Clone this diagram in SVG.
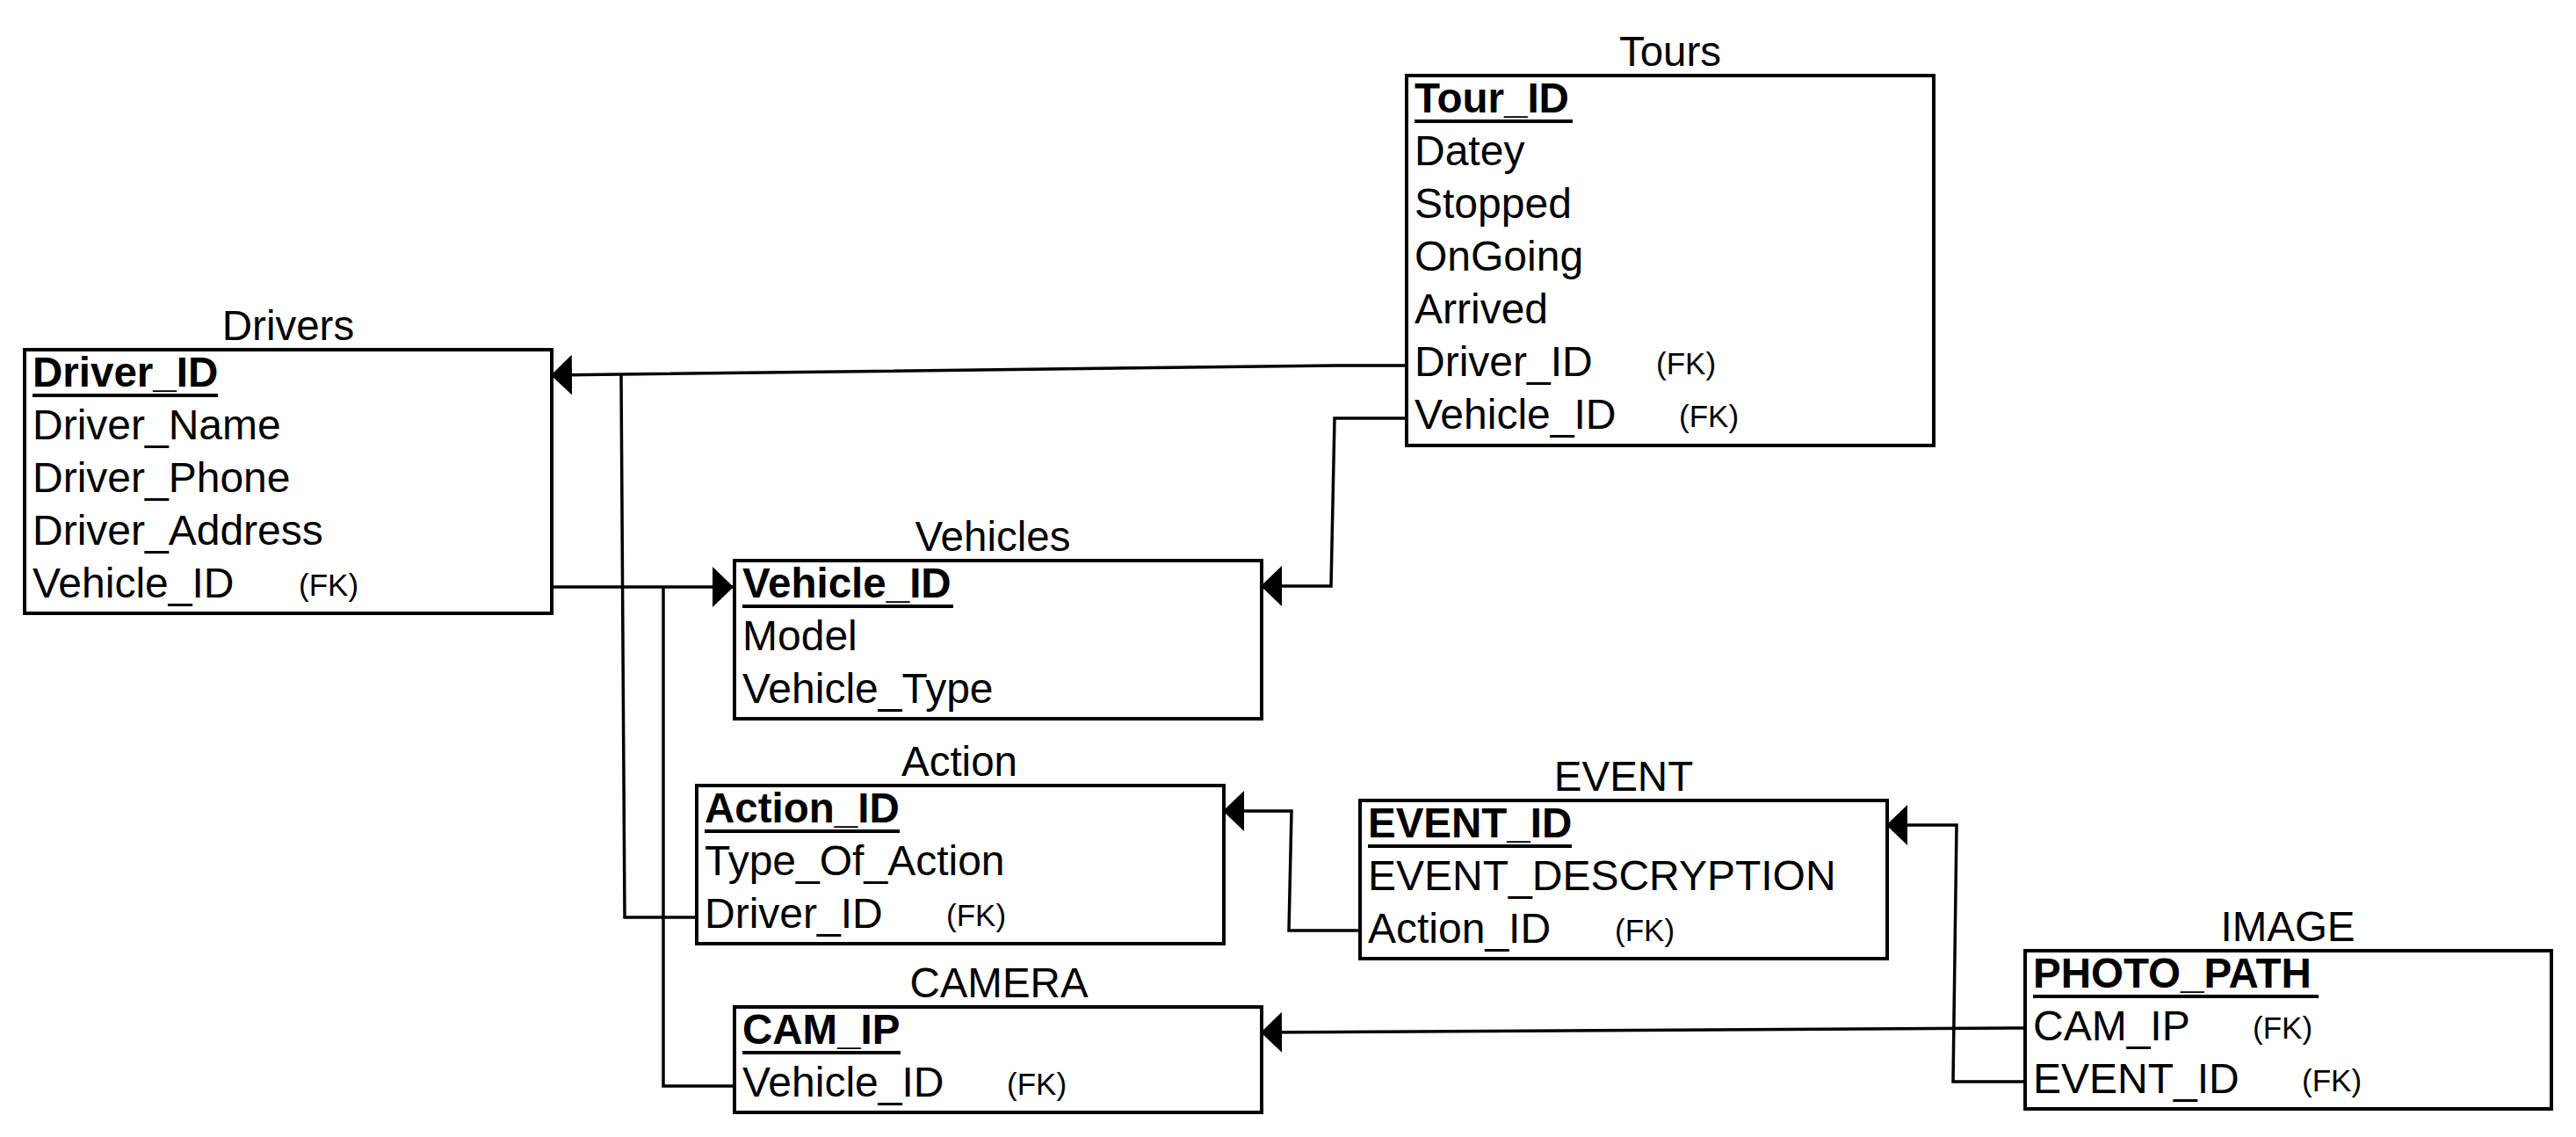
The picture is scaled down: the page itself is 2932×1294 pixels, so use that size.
<svg xmlns="http://www.w3.org/2000/svg" width="2932" height="1294" viewBox="0 0 2932 1294">
<style>
text{font-family:"Liberation Sans",Arial,sans-serif;fill:#000}
.t{font-size:47.5px;text-anchor:middle}
.r{font-size:48px}
.pk{font-size:47.5px;font-weight:bold}
.fk{font-size:35px}
.box{fill:#fff;stroke:#000;stroke-width:4}
.ul{stroke:#000;stroke-width:4}
.c{fill:none;stroke:#000;stroke-width:3.5}
.a{marker-end:url(#arr)}
</style>
<defs>
<marker id="arr" viewBox="0 -24 24 48" refX="24" refY="0" markerWidth="24" markerHeight="48" markerUnits="userSpaceOnUse" orient="auto">
<path d="M0,-23 L24,0 L0,23 Z" fill="#000"/>
</marker>
</defs>
<rect width="2932" height="1294" fill="#fff"/>
<g id="connectors">
<path class="c a" d="M1600,416 L1520,416 L627,427"/>
<path class="c" d="M792,1044 L711,1044 L707,427"/>
<path class="c a" d="M628,668 L835,668"/>
<path class="c" d="M836,1236 L755,1236 L755,668"/>
<path class="c a" d="M1600,476 L1519,476 L1515,667 L1435,667"/>
<path class="c a" d="M1548,1059 L1467,1059 L1470,923 L1392,923"/>
<path class="c a" d="M2305,1231 L2223,1231 L2227,939 L2147,939"/>
<path class="c a" d="M2305,1170 L1435,1175"/>
</g>
<g id="tours">
<text class="t" x="1901" y="75">Tours</text>
<rect class="box" x="1601" y="86" width="600" height="421"/>
<text class="pk" x="1610" y="128">Tour_ID</text>
<line class="ul" x1="1610" y1="138" x2="1790" y2="138"/>
<text class="r" x="1610" y="188">Datey</text>
<text class="r" x="1610" y="248">Stopped</text>
<text class="r" x="1610" y="308">OnGoing</text>
<text class="r" x="1610" y="368">Arrived</text>
<text class="r" x="1610" y="428">Driver_ID</text>
<text class="fk" x="1885" y="426">(FK)</text>
<text class="r" x="1610" y="488">Vehicle_ID</text>
<text class="fk" x="1911" y="486">(FK)</text>
</g>
<g id="drivers">
<text class="t" x="328" y="387">Drivers</text>
<rect class="box" x="28" y="398" width="600" height="300"/>
<text class="pk" x="37" y="440">Driver_ID</text>
<line class="ul" x1="37" y1="450" x2="248" y2="450"/>
<text class="r" x="37" y="500">Driver_Name</text>
<text class="r" x="37" y="560">Driver_Phone</text>
<text class="r" x="37" y="620">Driver_Address</text>
<text class="r" x="37" y="680">Vehicle_ID</text>
<text class="fk" x="340" y="678">(FK)</text>
</g>
<g id="vehicles">
<text class="t" x="1130" y="627">Vehicles</text>
<rect class="box" x="836" y="638" width="600" height="180"/>
<text class="pk" x="845" y="680">Vehicle_ID</text>
<line class="ul" x1="845" y1="690" x2="1085" y2="690"/>
<text class="r" x="845" y="740">Model</text>
<text class="r" x="845" y="800">Vehicle_Type</text>
</g>
<g id="action">
<text class="t" x="1092" y="883">Action</text>
<rect class="box" x="793" y="894" width="600" height="180"/>
<text class="pk" x="802" y="936">Action_ID</text>
<line class="ul" x1="802" y1="946" x2="1024" y2="946"/>
<text class="r" x="802" y="996">Type_Of_Action</text>
<text class="r" x="802" y="1056">Driver_ID</text>
<text class="fk" x="1077" y="1054">(FK)</text>
</g>
<g id="event">
<text class="t" x="1848" y="900">EVENT</text>
<rect class="box" x="1548" y="911" width="600" height="180"/>
<text class="pk" x="1557" y="953">EVENT_ID</text>
<line class="ul" x1="1557" y1="963" x2="1789" y2="963"/>
<text class="r" x="1557" y="1013">EVENT_DESCRYPTION</text>
<text class="r" x="1557" y="1073">Action_ID</text>
<text class="fk" x="1838" y="1071">(FK)</text>
</g>
<g id="camera">
<text class="t" x="1137" y="1135">CAMERA</text>
<rect class="box" x="836" y="1146" width="600" height="120"/>
<text class="pk" x="845" y="1188">CAM_IP</text>
<line class="ul" x1="845" y1="1198" x2="1025" y2="1198"/>
<text class="r" x="845" y="1248">Vehicle_ID</text>
<text class="fk" x="1146" y="1246">(FK)</text>
</g>
<g id="image">
<text class="t" x="2604" y="1071">IMAGE</text>
<rect class="box" x="2305" y="1082" width="599" height="180"/>
<text class="pk" x="2314" y="1124">PHOTO_PATH</text>
<line class="ul" x1="2314" y1="1134" x2="2639" y2="1134"/>
<text class="r" x="2314" y="1184">CAM_IP</text>
<text class="fk" x="2564" y="1182">(FK)</text>
<text class="r" x="2314" y="1244">EVENT_ID</text>
<text class="fk" x="2620" y="1242">(FK)</text>
</g>
</svg>
